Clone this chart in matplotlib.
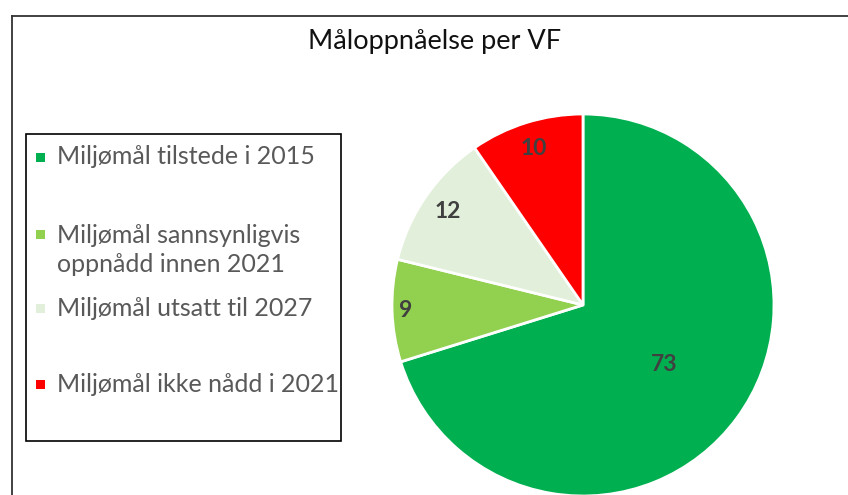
import numpy as np
import matplotlib as mpl

mpl.use('Agg')
import matplotlib.pyplot as plt
from matplotlib.patches import Rectangle
from matplotlib.lines import Line2D

categories = ["Miljømål tilstede i 2015",
              "Miljømål sannsynligvis\noppnådd innen 2021",
              "Miljømål utsatt til 2027",
              "Miljømål ikke nådd i 2021"]
values = [73, 9, 12, 10]
colors = ["#00B050", "#92D050", "#E2EFDA", "#FF0000"]
title = "Måloppnåelse per VF"

# label distance from centre (fraction of radius), per wedge
label_dist = [0.53, 0.93, 0.86, 0.86]
# legend entry y positions (px from top)
legend_y = [157, 250, 308, 384]

W, H = 848, 495
plt.rcParams['font.family'] = ['Lato', 'DejaVu Sans']

fig = plt.figure(figsize=(W / 100, H / 100), dpi=100)

# pie axes: centre (583, 305), radius 191 px
cx, cy, r = 583, 305, 191
ax = fig.add_axes([(cx - r) / W, (H - cy - r) / H, 2 * r / W, 2 * r / H])
wedges, _ = ax.pie(values, colors=colors, startangle=90, counterclock=False,
                   wedgeprops=dict(edgecolor="white", linewidth=2))
ax.set_xlim(-1, 1)
ax.set_ylim(-1, 1)
ax.set_aspect('auto')
ax.axis('off')

for w, v, d in zip(wedges, values, label_dist):
    ang = np.deg2rad((w.theta1 + w.theta2) / 2)
    ax.text(d * np.cos(ang), d * np.sin(ang), str(v), ha='center', va='center',
            fontsize=16.5, fontweight='bold', color='#404040')

# title
fig.text(435 / W, 1 - 42 / H, title, ha='center', va='center',
         fontsize=19.5, color='#111111')

# outer frame
fig.add_artist(Line2D([12 / W, 12 / W], [0, 1 - 15.5 / H], transform=fig.transFigure,
                      color='#333333', lw=1.3))
fig.add_artist(Line2D([12 / W, 1], [1 - 15.5 / H, 1 - 15.5 / H], transform=fig.transFigure,
                      color='#333333', lw=1.3))

# legend box
fig.add_artist(Rectangle((26 / W, 1 - 441 / H), (341 - 26) / W, (441 - 134) / H,
                         transform=fig.transFigure, fill=False, edgecolor='black', lw=1.2))
for lab, col, y in zip(categories, colors, legend_y):
    first_y = y - 15.5 if "\n" in lab else y
    fig.add_artist(Rectangle((36 / W, 1 - (first_y + 4.5) / H), 9 / W, 9 / H,
                             transform=fig.transFigure, facecolor=col, edgecolor='none'))
    fig.text(57 / W, 1 - y / H, lab, ha='left', va='center', fontsize=18,
             color='#595959', linespacing=1.32)

fig.savefig("out.png", dpi=100)
